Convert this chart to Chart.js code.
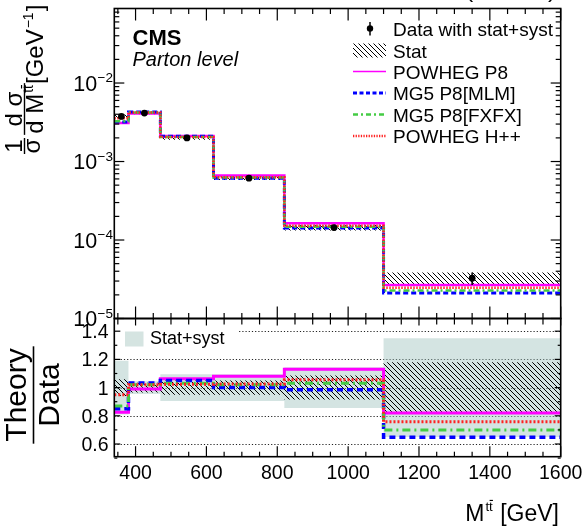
<!DOCTYPE html>
<html>
<head>
<meta charset="utf-8">
<title>ttbar invariant mass</title>
<script src="https://cdn.jsdelivr.net/npm/chart.js@4.4.1/dist/chart.umd.min.js"></script>
<style>
html,body{margin:0;padding:0;background:#fff;overflow:hidden}
#wrap{position:relative;width:583px;height:528px;background:#fff}
#wrap canvas{position:absolute;left:0;top:0}
</style>
</head>
<body>
<div id="wrap">
<canvas id="cLow" width="583" height="528" style="width:583px;height:528px"></canvas>
<canvas id="cUp" width="583" height="528" style="width:583px;height:528px"></canvas>
</div>
<script>
// ---------------- data ----------------
const binEdges   = [340, 380, 470, 620, 820, 1100, 1600];
const binCenters = [360, 425, 545, 720, 960, 1350];
const dataValues = [3.75e-3, 4.14e-3, 2.00e-3, 6.14e-4, 1.44e-4, 3.26e-5];
const statRel    = [0.06, 0.035, 0.05, 0.05, 0.085, 0.18];
const totRel     = [0.19, 0.045, 0.095, 0.095, 0.145, 0.35];
const powhegP8   = [3.09e-3, 4.10e-3, 2.12e-3, 6.63e-4, 1.63e-4, 2.67e-5];
const mg5MLM     = [3.19e-3, 4.28e-3, 2.10e-3, 6.14e-4, 1.42e-4, 2.11e-5];
const mg5FXFX    = [3.26e-3, 4.22e-3, 2.06e-3, 6.26e-4, 1.48e-4, 2.28e-5];
const powhegHpp  = [3.56e-3, 4.22e-3, 2.05e-3, 6.30e-4, 1.52e-4, 2.47e-5];
const ratioP8    = [0.825, 0.99, 1.062, 1.08, 1.13, 0.82];
const ratioMLM   = [0.85, 1.033, 1.05, 1.00, 0.985, 0.648];
const ratioFXFX  = [0.87, 1.02, 1.03, 1.02, 1.03, 0.70];
const ratioHpp   = [0.95, 1.02, 1.023, 1.026, 1.055, 0.757];
const xTicks       = [400, 600, 800, 1000, 1200, 1400, 1600];
const xTickLabels  = ['400', '600', '800', '1000', '1200', '1400', '1600'];
const logTicks     = [1e-5, 1e-4, 1e-3, 1e-2];
const logTickExps  = ['\u22125', '\u22124', '\u22123', '\u22122'];
const ratioTicks   = [0.6, 0.8, 1, 1.2, 1.4];
const ratioTickLabels = ['0.6', '0.8', '1', '1.2', '1.4'];
const legendLabels = ['Data with stat+syst', 'Stat', 'POWHEG P8', 'MG5 P8[MLM]', 'MG5 P8[FXFX]', 'POWHEG H++'];

// ---------------- styling ----------------
const FONT = '"Liberation Sans", Arial, Helvetica, sans-serif';
const fnt = (sz, st) => (st ? st + ' ' : '') + sz + 'px ' + FONT;
const COL = {p8: '#ff00ff', mlm: '#0000ff', fxfx: '#44cc44', hpp: '#ff2222', band: 'rgba(160,196,190,0.45)'};
const AREA = {left: 114.3, right: 560.7, top: 8.5, mid: 318.5, bottom: 456.7, W: 583, H: 528};

function makeHatch(){
  const s = 5;
  const c = document.createElement('canvas'); c.width = s; c.height = s;
  const g = c.getContext('2d');
  g.strokeStyle = '#000'; g.lineWidth = 1;
  g.beginPath();
  g.moveTo(0, 0); g.lineTo(s, s);
  g.moveTo(-1, s - 1); g.lineTo(1, s + 1);
  g.moveTo(s - 1, -1); g.lineTo(s + 1, 1);
  g.stroke();
  return g.createPattern(c, 'repeat');
}
const HATCH = makeHatch();

const stepData = vals => binEdges.map((e, i) => ({x: e, y: vals[Math.min(i, vals.length - 1)]}));
const statHighAbs = dataValues.map((v, i) => v * (1 + statRel[i]));
const statLowAbs  = dataValues.map((v, i) => v * (1 - statRel[i]));
const statHighRat = statRel.map(s => 1 + s);
const statLowRat  = statRel.map(s => 1 - s);
const totHighRat  = totRel.map(s => 1 + s);
const totLowRat   = totRel.map(s => 1 - s);

function seg(ctx, x1, y1, x2, y2){ ctx.beginPath(); ctx.moveTo(x1, y1); ctx.lineTo(x2, y2); ctx.stroke(); }

// draws "M^{tt̄}" starting at x (left), baseline y; returns end x
function drawMtt(ctx, x, y, fs){
  ctx.textAlign = 'left'; ctx.textBaseline = 'alphabetic';
  ctx.font = fnt(fs);
  ctx.fillText('M', x, y);
  const wM = ctx.measureText('M').width;
  const sfs = fs * 0.58;
  ctx.font = fnt(sfs);
  const sx = x + wM + 1, sy = y - fs * 0.42;
  ctx.fillText('tt', sx, sy);
  const wt = ctx.measureText('t').width;
  ctx.fillRect(sx + wt + 0.5, sy - sfs * 0.86, wt * 0.9, Math.max(1, fs * 0.05));
  ctx.font = fnt(fs);
  return sx + 2 * wt + 1;
}
function widthMtt(ctx, fs){
  ctx.font = fnt(fs); const wM = ctx.measureText('M').width;
  ctx.font = fnt(fs * 0.58); const wt = ctx.measureText('t').width;
  return wM + 2 + 2 * wt;
}

function histDS(vals, color, width, dash, order){
  return {data: stepData(vals), stepped: 'before', borderColor: color, borderWidth: width,
          borderDash: dash, pointRadius: 0, fill: false, order: order, borderCapStyle: 'butt'};
}

// ---------------- upper panel ----------------
const upperDeco = {
  id: 'upperDeco',
  afterDatasetsDraw(chart){
    const {ctx, scales: {x, y}} = chart;
    ctx.save();
    ctx.strokeStyle = '#000'; ctx.lineWidth = 1.5;
    dataValues.forEach((v, i) => {
      const px = x.getPixelForValue(binCenters[i]);
      seg(ctx, px, y.getPixelForValue(v * (1 + statRel[i])), px, y.getPixelForValue(v * (1 - statRel[i])));
    });
    ctx.restore();
  },
  afterDraw(chart){
    const {ctx, chartArea: a, scales: {x, y}} = chart;
    ctx.save();
    ctx.strokeStyle = '#000'; ctx.fillStyle = '#000';
    // x ticks (bottom pointing up, top pointing down)
    ctx.lineWidth = 1.2;
    for (let v = 350; v <= 1600; v += 50){
      const px = x.getPixelForValue(v);
      const len = xTicks.includes(v) ? 12 : 5.5;
      seg(ctx, px, a.bottom, px, a.bottom - len);
      seg(ctx, px, a.top, px, a.top + len);
    }
    // log ticks left/right
    for (let e = -5; e <= -2; e++){
      for (let m = 1; m <= 9; m++){
        const v = m * Math.pow(10, e);
        if (v > y.max) break;
        const py = y.getPixelForValue(v);
        const len = m === 1 ? 10 : 5;
        seg(ctx, a.left, py, a.left + len, py);
        seg(ctx, a.right, py, a.right - len, py);
      }
    }
    // frame
    ctx.lineWidth = 1.6;
    ctx.strokeRect(a.left, a.top, a.right - a.left, a.bottom - a.top);
    // log tick labels
    ctx.textBaseline = 'alphabetic'; ctx.textAlign = 'left';
    logTicks.forEach((v, i) => {
      const py = y.getPixelForValue(v);
      ctx.font = fnt(21.5); const w10 = ctx.measureText('10').width;
      ctx.font = fnt(13.5); const we = ctx.measureText(logTickExps[i]).width;
      const x0 = 112.5 - w10 - we;
      ctx.font = fnt(21.5); ctx.fillText('10', x0, py + 7.7);
      ctx.font = fnt(13.5); ctx.fillText(logTickExps[i], x0 + w10 + 0.5, py - 1);
    });
    // CMS labels
    ctx.font = fnt(22, 'bold'); ctx.fillText('CMS', 132.5, 44.5);
    ctx.font = fnt(20, 'italic'); ctx.fillText('Parton level', 132.5, 65.5);
    // top-right luminosity label (cut at the top edge)
    ctx.font = fnt(24); ctx.textAlign = 'right';
    ctx.fillText('(13 TeV)', 556, -3.5);
    // legend
    ctx.textAlign = 'left';
    const rows = [28.5, 50.5, 71.5, 93, 114.5, 136];
    const sx0 = 353, sx1 = 386, tx = 393;
    ctx.font = fnt(19);
    legendLabels.forEach((t, i) => ctx.fillText(t, tx, rows[i] + 7));
    // data marker
    ctx.lineWidth = 1.5; seg(ctx, 370, rows[0] - 6.5, 370, rows[0] + 7);
    ctx.beginPath(); ctx.arc(370, rows[0], 3.2, 0, 2 * Math.PI); ctx.fill();
    // stat hatch box
    ctx.fillStyle = HATCH; ctx.fillRect(sx0, rows[1] - 7, sx1 - sx0, 14); ctx.fillStyle = '#000';
    const lg = [[COL.p8, 1.6, []], [COL.mlm, 3, [4, 2.5]], [COL.fxfx, 2.5, [5, 3, 2, 3]], [COL.hpp, 2.5, [1.3, 1.3]]];
    lg.forEach((s, i) => {
      ctx.strokeStyle = s[0]; ctx.lineWidth = s[1]; ctx.setLineDash(s[2]);
      seg(ctx, sx0, rows[i + 2], sx1, rows[i + 2]);
    });
    ctx.setLineDash([]);
    // y title (rotated): point (u,v) -> screen (v, -u)
    ctx.fillStyle = '#000'; ctx.strokeStyle = '#000';
    ctx.rotate(-Math.PI / 2);
    ctx.textAlign = 'center';
    const F = 24;
    ctx.font = fnt(F);
    // fraction 1 / sigma
    ctx.fillText('1', -146, 21.5);
    ctx.fillText('\u03c3', -146, 39.5);
    ctx.lineWidth = 1.4; seg(ctx, -154, 24.5, -138, 24.5);
    // fraction d sigma / d M^tt
    ctx.fillText('d \u03c3', -109, 21.5);
    ctx.textAlign = 'left';
    const wd = ctx.measureText('d ').width;
    const wden = wd + widthMtt(ctx, F);
    const u0 = -109 - wden / 2;
    ctx.font = fnt(F); ctx.fillText('d ', u0, 43);
    drawMtt(ctx, u0 + wd, 43, F);
    seg(ctx, -109 - wden / 2 - 1, 24.5, -109 + wden / 2 + 1, 24.5);
    // [GeV^-1]
    ctx.font = fnt(F); ctx.textAlign = 'left';
    let uu = -84;
    ctx.fillText('[GeV', uu, 43); uu += ctx.measureText('[GeV').width + 1;
    ctx.font = fnt(14); ctx.fillText('\u22121', uu, 33); uu += ctx.measureText('\u22121').width + 1;
    ctx.font = fnt(F); ctx.fillText(']', uu, 43);
    ctx.restore();
  }
};

new Chart(document.getElementById('cUp'), {
  type: 'line',
  data: {
    datasets: [
      {data: stepData(statHighAbs), stepped: 'before', borderWidth: 0, pointRadius: 0, fill: '+1', backgroundColor: HATCH, order: 20},
      {data: stepData(statLowAbs), stepped: 'before', borderWidth: 0, pointRadius: 0, fill: false, order: 21},
      histDS(powhegP8, COL.p8, 2.5, [], 8),
      histDS(mg5MLM, COL.mlm, 3, [5, 3], 7),
      histDS(mg5FXFX, COL.fxfx, 2.5, [6, 3, 2, 3], 6),
      histDS(powhegHpp, COL.hpp, 2.5, [1.5, 1.5], 5),
      {type: 'scatter', data: binCenters.map((c, i) => ({x: c, y: dataValues[i]})), showLine: false,
       pointRadius: 3.4, pointBackgroundColor: '#000', pointBorderColor: '#000', pointBorderWidth: 0, order: 0}
    ]
  },
  options: {
    responsive: false, animation: false, events: [],
    layout: {padding: {left: AREA.left, right: AREA.W - AREA.right, top: AREA.top, bottom: AREA.H - AREA.mid}},
    plugins: {legend: {display: false}, tooltip: {enabled: false}},
    scales: {
      x: {type: 'linear', min: 340, max: 1600, display: false},
      y: {type: 'logarithmic', min: 1e-5, max: 0.089, display: false}
    }
  },
  plugins: [upperDeco]
});

// ---------------- lower panel ----------------
const lowerDeco = {
  id: 'lowerDeco',
  beforeDatasetsDraw(chart){
    const {ctx, chartArea: a, scales: {y}} = chart;
    ctx.save();
    ctx.strokeStyle = '#222'; ctx.lineWidth = 1; ctx.setLineDash([1.2, 2]);
    ratioTicks.forEach(v => {
      const py = Math.round(y.getPixelForValue(v)) + 0.5;
      seg(ctx, a.left, py, a.right, py);
    });
    ctx.restore();
  },
  afterDatasetsDraw(chart){
    const {ctx} = chart;
    ctx.save();
    // legend box
    ctx.fillStyle = '#fff';
    ctx.fillRect(AREA.left + 1, AREA.mid + 1, 123, 28);
    ctx.fillStyle = 'rgb(213,228,225)';
    ctx.fillRect(125, 331.5, 18.5, 15);
    ctx.fillStyle = '#000'; ctx.font = fnt(18); ctx.textAlign = 'left'; ctx.textBaseline = 'alphabetic';
    ctx.fillText('Stat+syst', 150, 344);
    ctx.restore();
  },
  afterDraw(chart){
    const {ctx, chartArea: a, scales: {x, y}} = chart;
    ctx.save();
    ctx.strokeStyle = '#000'; ctx.fillStyle = '#000'; ctx.lineWidth = 1.2;
    for (let v = 350; v <= 1600; v += 50){
      const px = x.getPixelForValue(v);
      const major = xTicks.includes(v);
      seg(ctx, px, a.bottom, px, a.bottom - (major ? 10.5 : 5));
      seg(ctx, px, a.top, px, a.top + (major ? 7 : 6));
    }
    for (let k = 0; k < ratioTicks.length; k++){
      const py = y.getPixelForValue(ratioTicks[k]);
      seg(ctx, a.left, py, a.left + 6, py); seg(ctx, a.right, py, a.right - 6, py);
      const pm = y.getPixelForValue(ratioTicks[k] - 0.1);
      seg(ctx, a.left, pm, a.left + 3, pm); seg(ctx, a.right, pm, a.right - 3, pm);
    }
    ctx.lineWidth = 1.6;
    ctx.strokeRect(a.left, a.top, a.right - a.left, a.bottom - a.top);
    // tick labels
    ctx.textBaseline = 'alphabetic';
    ctx.font = fnt(19.5); ctx.textAlign = 'center';
    xTicks.forEach((v, i) => ctx.fillText(xTickLabels[i], x.getPixelForValue(v), 479));
    ctx.font = fnt(19.5); ctx.textAlign = 'right';
    ratioTicks.forEach((v, i) => ctx.fillText(ratioTickLabels[i], 108.5, y.getPixelForValue(v) + 7));
    // x title
    const fs = 23;
    ctx.font = fnt(fs);
    const wRest = ctx.measureText(' [GeV]').width;
    const wT = widthMtt(ctx, fs) + wRest;
    const xe = drawMtt(ctx, 559 - wT, 521, fs);
    ctx.font = fnt(fs); ctx.textAlign = 'left'; ctx.fillText(' [GeV]', xe, 521);
    // y title Theory / Data (rotated)
    ctx.rotate(-Math.PI / 2);
    ctx.textAlign = 'center'; ctx.font = fnt(30);
    ctx.fillText('Theory', -395, 25.5);
    ctx.fillText('Data', -395, 58.5);
    const wTh = ctx.measureText('Theory').width;
    ctx.lineWidth = 1.6; seg(ctx, -395 - wTh / 2 - 2, 33.5, -395 + wTh / 2 + 2, 33.5);
    ctx.restore();
  }
};

new Chart(document.getElementById('cLow'), {
  type: 'line',
  data: {
    datasets: [
      {data: stepData(totHighRat), stepped: 'before', borderWidth: 0, pointRadius: 0, fill: '+1', backgroundColor: COL.band, order: 30},
      {data: stepData(totLowRat), stepped: 'before', borderWidth: 0, pointRadius: 0, fill: false, order: 31},
      {data: stepData(statHighRat), stepped: 'before', borderWidth: 0, pointRadius: 0, fill: '+1', backgroundColor: HATCH, order: 20},
      {data: stepData(statLowRat), stepped: 'before', borderWidth: 0, pointRadius: 0, fill: false, order: 21},
      histDS(ratioP8, COL.p8, 3, [], 8),
      histDS(ratioMLM, COL.mlm, 3.5, [6, 4], 7),
      histDS(ratioFXFX, COL.fxfx, 3, [8, 4, 2, 4], 6),
      histDS(ratioHpp, COL.hpp, 3, [2, 2], 5)
    ]
  },
  options: {
    responsive: false, animation: false, events: [],
    layout: {padding: {left: AREA.left, right: AREA.W - AREA.right, top: AREA.mid, bottom: AREA.H - AREA.bottom}},
    plugins: {legend: {display: false}, tooltip: {enabled: false}},
    scales: {
      x: {type: 'linear', min: 340, max: 1600, display: false},
      y: {type: 'linear', min: 0.51, max: 1.49, display: false}
    }
  },
  plugins: [lowerDeco]
});
</script>
</body>
</html>
